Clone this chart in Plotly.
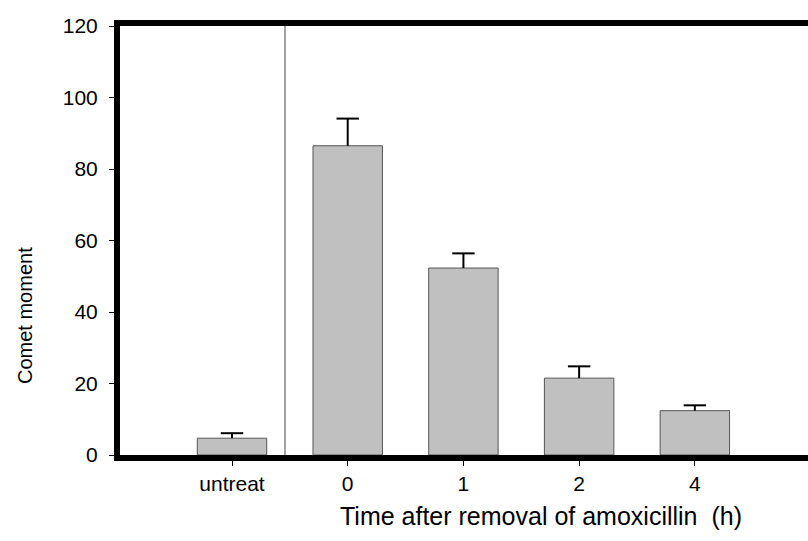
import plotly.graph_objects as go

categories = ["untreat", "0", "1", "2", "4"]
comet_moment = [4.7, 86.5, 52.3, 21.5, 12.4]
error_upper = [1.4, 7.6, 4.1, 3.3, 1.5]
y_ticks = [0, 20, 40, 60, 80, 100, 120]

FONT = "Liberation Sans, Arial, sans-serif"
W, H = 808, 541
L, R, T, B = 120, 0, 26, 86

fig = go.Figure()
fig.add_trace(go.Bar(
    x=categories,
    y=comet_moment,
    width=0.6,
    marker=dict(color="#c0c0c0", line=dict(color="#555555", width=1)),
))

# upper-only error bars: stems from bar top to value+error, cap at the top
stem_x, stem_y = [], []
for c, v, e in zip(categories, comet_moment, error_upper):
    stem_x += [c, c, None]
    stem_y += [v, v + e, None]
fig.add_trace(go.Scatter(
    x=stem_x, y=stem_y, mode="lines",
    line=dict(color="black", width=2), hoverinfo="skip",
))
fig.add_trace(go.Scatter(
    x=categories, y=[v + e for v, e in zip(comet_moment, error_upper)],
    mode="markers",
    marker=dict(symbol="line-ew", size=16, line=dict(color="black", width=2)),
    hoverinfo="skip",
))

# thin separator between untreated and time series
fig.add_shape(type="line", xref="x", yref="paper", x0=0.458, x1=0.458, y0=0, y1=1,
              line=dict(color="#444444", width=1))

# axis titles placed like the original
fig.add_annotation(text="Time after removal of amoxicillin  (h)",
                   xref="paper", yref="paper",
                   x=(541 - L) / (W - L - R), y=-(516 - (H - B)) / (H - T - B),
                   showarrow=False, xanchor="center", yanchor="middle",
                   font=dict(size=25, family=FONT, color="black"))
fig.add_annotation(text="Comet moment", textangle=-90,
                   xref="paper", yref="paper",
                   x=-(L - 25) / (W - L - R), y=((H - B) - 316) / (H - T - B),
                   showarrow=False, xanchor="center", yanchor="middle",
                   font=dict(size=20, family=FONT, color="black"))

fig.update_layout(
    width=W, height=H,
    margin=dict(l=L, r=R, t=T, b=B),
    paper_bgcolor="white", plot_bgcolor="white",
    showlegend=False,
    font=dict(family=FONT, color="black", size=21),
    xaxis=dict(
        type="category", range=[-0.968, 4.978],
        showline=True, linewidth=6, linecolor="black", mirror=True,
        ticks="outside", ticklen=5, tickwidth=1, tickcolor="black",
        showgrid=False, zeroline=False,
        tickfont=dict(size=21, family=FONT),
    ),
    yaxis=dict(
        range=[0, 120], tickvals=y_ticks,
        showline=True, linewidth=6, linecolor="black", mirror=False,
        ticks="outside", ticklen=5, tickwidth=1, tickcolor="black",
        showgrid=False, zeroline=False,
        tickfont=dict(size=21, family=FONT),
        ticklabelstandoff=7,
    ),
)

fig.write_html("out.html")
